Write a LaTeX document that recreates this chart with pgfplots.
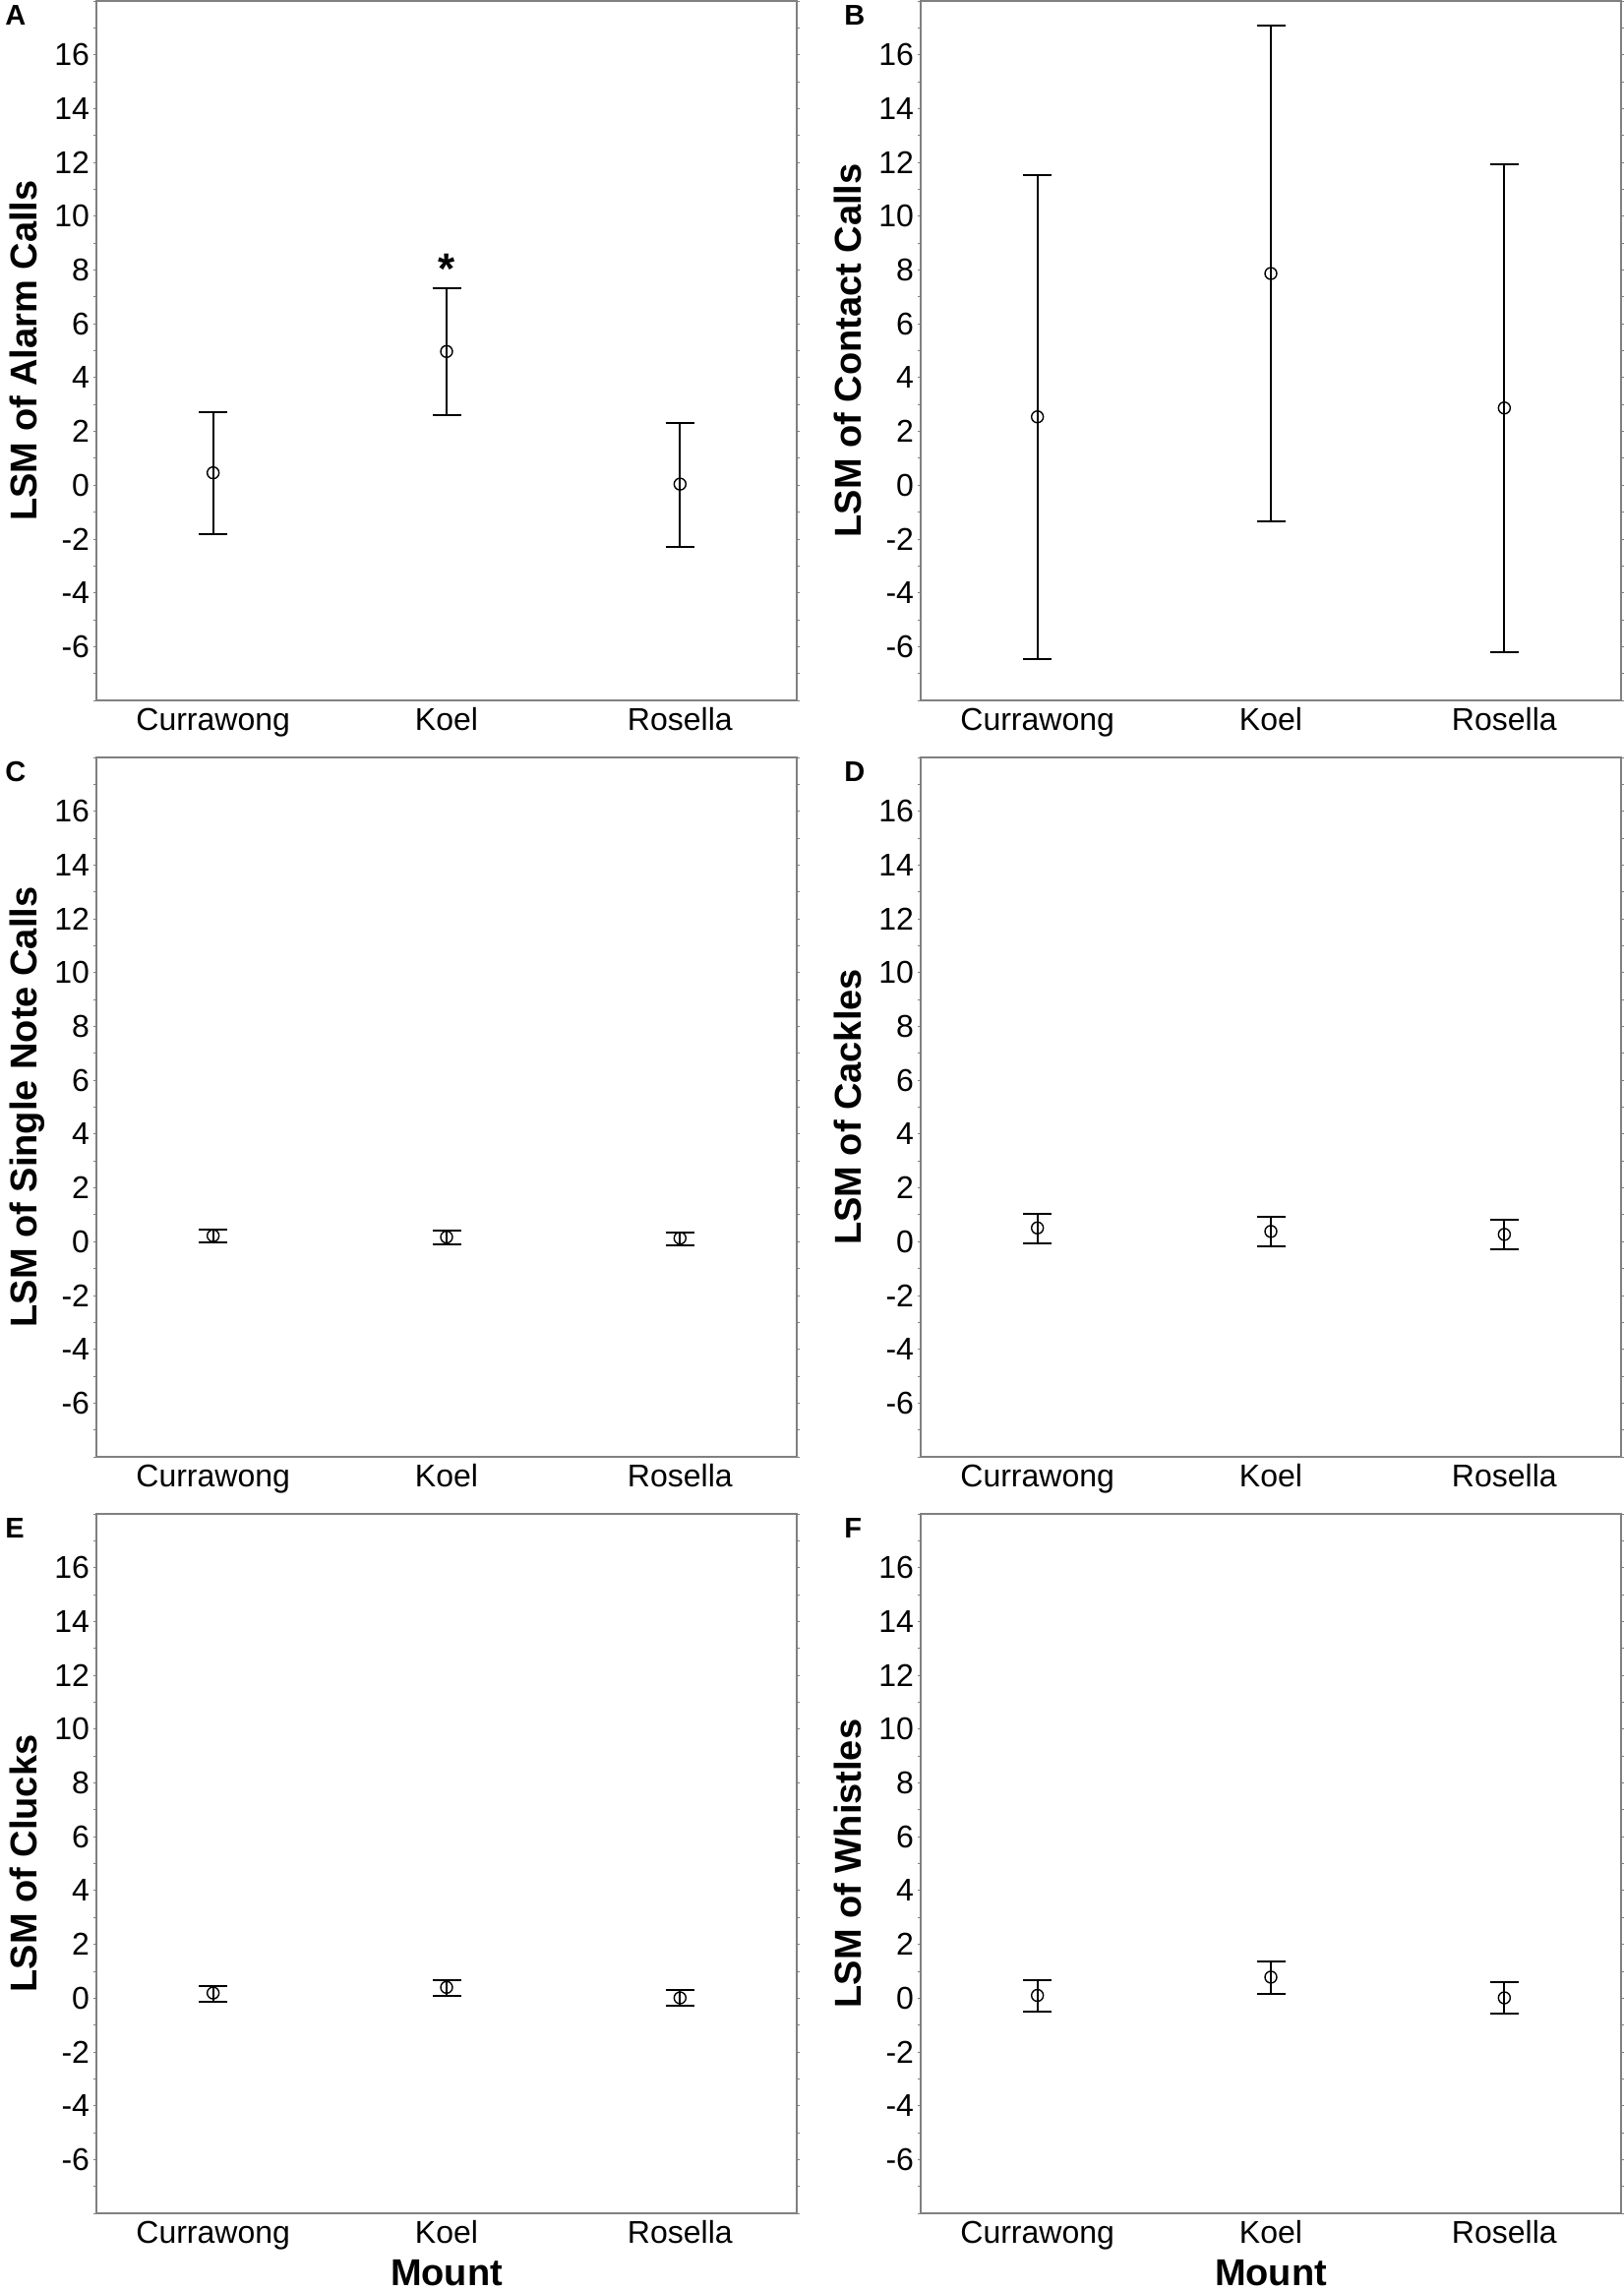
\documentclass[border=0pt]{standalone}
\usepackage{fontspec}
\setmainfont{Liberation Sans}
\usepackage{pgfplots}
\pgfplotsset{compat=1.18}
\usepackage{pgfplotstable}

\pgfplotstableread{
x y ep em
0 0.46 2.27 2.28
1 4.97 2.37 2.38
2 0.04 2.29 2.33
}\dataA
\pgfplotstableread{
x y ep em
0 2.54 8.98 9.01
1 7.87 9.22 9.21
2 2.87 9.07 9.06
}\dataB
\pgfplotstableread{
x y ep em
0 0.22 0.24 0.26
1 0.17 0.23 0.27
2 0.13 0.22 0.25
}\dataC
\pgfplotstableread{
x y ep em
0 0.51 0.53 0.58
1 0.38 0.54 0.57
2 0.27 0.55 0.56
}\dataD
\pgfplotstableread{
x y ep em
0 0.19 0.27 0.31
1 0.40 0.28 0.33
2 0.01 0.29 0.30
}\dataE
\pgfplotstableread{
x y ep em
0 0.10 0.56 0.60
1 0.78 0.58 0.62
2 0.01 0.57 0.59
}\dataF

\pgfplotsset{
  panel/.style={
    scale only axis, width=356pt, height=355.5pt,
    anchor=north west, clip=false,
    xmin=-0.5, xmax=2.5, ymin=-8, ymax=18,
    xtick={0,1,2}, xticklabels={Currawong,Koel,Rosella},
    ytick={-6,-4,...,16},
    yticklabels={-6,-4,-2,0,2,4,6,8,10,12,14,16},
    minor ytick={-8,-7,...,18},
    tick align=outside, major tick length=1.5pt, minor tick length=1.5pt,
    x tick style={draw=none},
    y tick style={draw=gray, line width=0.4pt},
    axis line style={draw=gray, line width=0.7pt},
    yticklabel style={inner sep=0pt, xshift=-1.8pt, font=\fontsize{16}{18}\selectfont},
    xticklabel style={anchor=base, inner sep=0pt, yshift=-13.5pt, font=\fontsize{16}{18}\selectfont},
    ylabel style={at={(axis description cs:-0.0843,0.5)}, anchor=base, font=\bfseries\fontsize{19}{22}\selectfont},
    xlabel style={at={(axis description cs:0.5,-0.104)}, anchor=base, font=\bfseries\fontsize{19}{22}\selectfont},
  },
  lsm/.style={black, only marks, mark=o, mark size=3pt,
    mark options={line width=0.7pt},
    error bars/.cd, y dir=both, y explicit,
    error bar style={line width=1pt, black},
    error mark options={rotate=90, mark size=7.25pt, line width=1pt, black}},
}

\begin{document}
\begin{tikzpicture}
% row tops at 1, 770, 1539 px (0.5pt per px)
\begin{axis}[panel, at={(49pt,-0.5pt)}, ylabel={LSM of Alarm Calls}]
\addplot[lsm] table[x=x, y=y, y error plus=ep, y error minus=em]{\dataA};
\node[anchor=base, inner sep=0pt, font=\bfseries\fontsize{22}{24}\selectfont] at (axis cs:1,7.5) {*};
\end{axis}
\begin{axis}[panel, at={(468pt,-0.5pt)}, ylabel={LSM of Contact Calls}]
\addplot[lsm] table[x=x, y=y, y error plus=ep, y error minus=em]{\dataB};
\end{axis}
\begin{axis}[panel, at={(49pt,-385pt)}, ylabel={LSM of Single Note Calls}]
\addplot[lsm] table[x=x, y=y, y error plus=ep, y error minus=em]{\dataC};
\end{axis}
\begin{axis}[panel, at={(468pt,-385pt)}, ylabel={LSM of Cackles}]
\addplot[lsm] table[x=x, y=y, y error plus=ep, y error minus=em]{\dataD};
\end{axis}
\begin{axis}[panel, at={(49pt,-769.5pt)}, ylabel={LSM of Clucks}, xlabel={Mount}]
\addplot[lsm] table[x=x, y=y, y error plus=ep, y error minus=em]{\dataE};
\end{axis}
\begin{axis}[panel, at={(468pt,-769.5pt)}, ylabel={LSM of Whistles}, xlabel={Mount}]
\addplot[lsm] table[x=x, y=y, y error plus=ep, y error minus=em]{\dataF};
\end{axis}
% panel letters
\begin{scope}[every node/.style={anchor=base west, inner sep=0pt, font=\bfseries\fontsize{14.5}{16}\selectfont}]
\node at (2.5pt,-12.5pt) {A};
\node at (429pt,-12.5pt) {B};
\node at (2.5pt,-397pt) {C};
\node at (429pt,-397pt) {D};
\node at (2.5pt,-781.5pt) {E};
\node at (429pt,-781.5pt) {F};
\end{scope}
\pgfresetboundingbox
\path (0,0) rectangle (825pt,-1164.5pt);
\end{tikzpicture}
\end{document}
